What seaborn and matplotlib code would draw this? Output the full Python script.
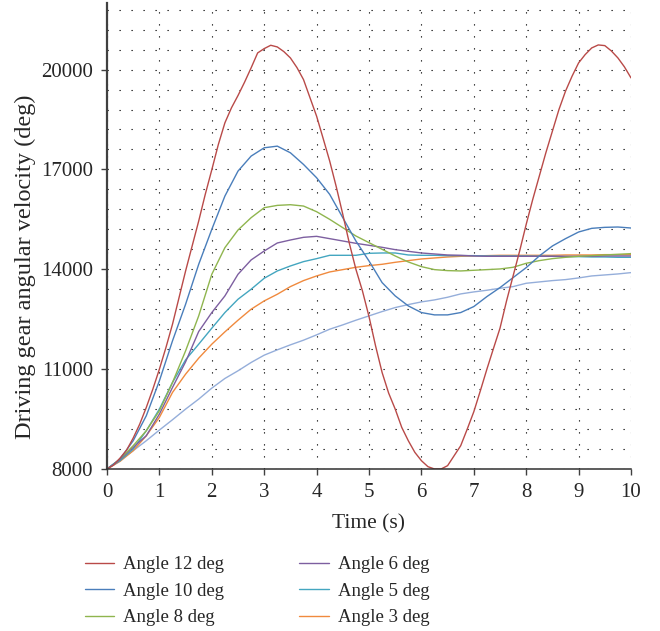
import matplotlib
matplotlib.use('Agg')
import matplotlib.pyplot as plt
from matplotlib.ticker import FixedLocator
import numpy as np
import pandas as pd
import seaborn as sns

# time axis (s)
time_s = [0, 0.25, 0.5, 0.75, 1.0, 1.25, 1.5, 1.75, 2.0, 2.25, 2.5, 2.75, 3.0, 3.25,
          3.5, 3.75, 4.0, 4.25, 4.5, 4.75, 5.0, 5.25, 5.5, 5.75, 6.0, 6.25, 6.5, 6.75,
          7.0, 7.25, 7.5, 7.75, 8.0, 8.25, 8.5, 8.75, 9.0, 9.25, 9.5, 9.75, 10.0]
time_fine = [0, 0.125, 0.25, 0.375, 0.5, 0.625, 0.75, 0.875, 1.0, 1.125, 1.25, 1.375,
             1.5, 1.625, 1.75, 1.875, 2.0, 2.125, 2.25, 2.375, 2.5, 2.625, 2.75, 2.875,
             3.0, 3.125, 3.25, 3.375, 3.5, 3.625, 3.75, 3.875, 4.0, 4.125, 4.25, 4.375,
             4.5, 4.625, 4.75, 4.875, 5.0, 5.125, 5.25, 5.375, 5.5, 5.625, 5.75, 5.875,
             6.0, 6.125, 6.25, 6.375, 6.5, 6.625, 6.75, 6.875, 7.0, 7.125, 7.25, 7.375,
             7.5, 7.625, 7.75, 7.875, 8.0, 8.125, 8.25, 8.375, 8.5, 8.625, 8.75, 8.875,
             9.0, 9.125, 9.25, 9.375, 9.5, 9.625, 9.75, 9.875, 10.0]

angle_12 = [8000, 8120, 8330, 8570, 8930, 9350, 9850, 10400, 11000, 11650, 12350, 13150,
            13950, 14700, 15450, 16250, 16990, 17750, 18400, 18850, 19220, 19620, 20050,
            20500, 20630, 20730, 20680, 20540, 20350, 20060, 19700, 19150, 18600, 17930,
            17250, 16480, 15650, 14780, 14000, 13350, 12580, 11700, 10900, 10280, 9800,
            9250, 8850, 8500, 8250, 8070, 8000, 8000, 8100, 8400, 8700, 9200, 9720, 10350,
            11000, 11620, 12230, 13050, 13800, 14550, 15350, 16100, 16800, 17500, 18150,
            18800, 19350, 19800, 20200, 20450, 20650, 20740, 20720, 20560, 20350, 20080,
            19750]
angle_10 = [8000, 8300, 8850, 9600, 10650, 11850, 12950, 14150, 15200, 16200, 16950,
            17400, 17650, 17700, 17500, 17150, 16750, 16250, 15550, 14850, 14250, 13600,
            13200, 12900, 12700, 12630, 12630, 12700, 12880, 13180, 13450, 13750, 14050,
            14400, 14700, 14920, 15120, 15230, 15260, 15270, 15240]
angle_8 = [8000, 8300, 8700, 9150, 9750, 10600, 11550, 12600, 13850, 14650, 15180,
           15550, 15850, 15920, 15940, 15900, 15730, 15500, 15250, 15000, 14800, 14600,
           14400, 14220, 14080, 13990, 13960, 13950, 13970, 13990, 14010, 14060, 14180,
           14260, 14320, 14360, 14390, 14410, 14430, 14450, 14470]
angle_6 = [8000, 8280, 8650, 9000, 9650, 10450, 11220, 12130, 12700, 13200, 13850,
           14280, 14550, 14790, 14880, 14960, 14990, 14920, 14850, 14780, 14720, 14660,
           14590, 14540, 14490, 14460, 14430, 14420, 14400, 14390, 14390, 14390, 14390,
           14390, 14390, 14390, 14390, 14390, 14400, 14400, 14400]
angle_5 = [8000, 8250, 8600, 9150, 9800, 10600, 11280, 11750, 12230, 12700, 13100,
           13400, 13730, 13950, 14100, 14230, 14320, 14420, 14420, 14420, 14480, 14490,
           14490, 14430, 14420, 14420, 14410, 14410, 14410, 14400, 14400, 14400, 14400,
           14390, 14390, 14380, 14380, 14370, 14370, 14360, 14360]
angle_3 = [8000, 8230, 8550, 9000, 9550, 10300, 10850, 11330, 11750, 12120, 12470,
           12800, 13050, 13250, 13480, 13660, 13800, 13920, 13990, 14060, 14110, 14150,
           14210, 14260, 14310, 14340, 14370, 14390, 14400, 14410, 14420, 14420, 14420,
           14420, 14420, 14430, 14430, 14430, 14440, 14440, 14440]
angle_extra = [8000, 8270, 8550, 8850, 9170, 9480, 9800, 10100, 10430, 10720, 10950,
               11200, 11420, 11580, 11730, 11870, 12030, 12200, 12330, 12470, 12600, 12730,
               12850, 12940, 13020, 13080, 13160, 13260, 13320, 13370, 13430, 13480, 13580,
               13620, 13660, 13690, 13740, 13800, 13830, 13860, 13900]

labels = ['Angle 12 deg', 'Angle 10 deg', 'Angle 8 deg', 'Angle 6 deg', 'Angle 5 deg', 'Angle 3 deg', None]
colors = ['#B94A48', '#4A7EBB', '#8FB54E', '#7D5FA0', '#44A6C0', '#F08A3E', '#95AEDA']
series = [angle_12, angle_10, angle_8, angle_6, angle_5, angle_3, angle_extra]
times = [time_fine] + [time_s] * 6

sns.set_style('ticks')
plt.rcParams['font.family'] = ['Liberation Serif', 'DejaVu Serif']

fig = plt.figure(figsize=(6.6, 6.31), dpi=100)
ax = fig.add_axes([107 / 660, 1 - 469 / 631, 524 / 660, 466 / 631])

# extra line first so coloured ones sit on top
for i in [6, 5, 4, 3, 2, 1, 0]:
    sns.lineplot(x=times[i], y=series[i], color=colors[i], linewidth=1.0, ax=ax,
                 label=labels[i] if labels[i] else '_nolegend_', legend=False)

ax.set_xlim(0, 10)
ax.set_ylim(8000, 22000)
ax.xaxis.set_major_locator(FixedLocator(range(0, 11)))
ax.yaxis.set_major_locator(FixedLocator([8000, 11000, 14000, 17000, 20000]))
ax.yaxis.set_minor_locator(FixedLocator(np.arange(8600, 22001, 600)))

dots = (0, (1.1, 9.7))
ax.grid(which='major', axis='x', color='black', linestyle=dots, linewidth=0.8)
ax.grid(which='both', axis='y', color='black', linestyle=dots, linewidth=0.8)

for s in ['top', 'right']:
    ax.spines[s].set_visible(False)
ax.spines['left'].set_color('#404040')
ax.spines['left'].set_linewidth(1.6)
ax.spines['bottom'].set_color('#303030')
ax.spines['bottom'].set_linewidth(1.1)
ax.tick_params(which='major', direction='out', length=4, width=1, color='#404040',
               labelsize=15, pad=6)
ax.tick_params(which='minor', length=0)

ax.set_xlabel('Time (s)', fontsize=15.5, labelpad=9)
ax.set_ylabel('Driving gear angular velocity (deg)', fontsize=17.5)
ax.yaxis.set_label_coords(-0.135, 0.435)

handles, labs = ax.get_legend_handles_labels()
lookup = dict(zip(labs, handles))
leg_order = labels[:6]
fig.legend([lookup[l] for l in leg_order], leg_order, loc='upper left',
           bbox_to_anchor=(85 / 660, 1 - 556 / 631), ncol=2, frameon=False,
           fontsize=13.5, handlelength=1.55, handletextpad=0.5, columnspacing=4.0,
           labelspacing=0.5, borderpad=0, borderaxespad=0)

fig.savefig('out.png', dpi=100)
